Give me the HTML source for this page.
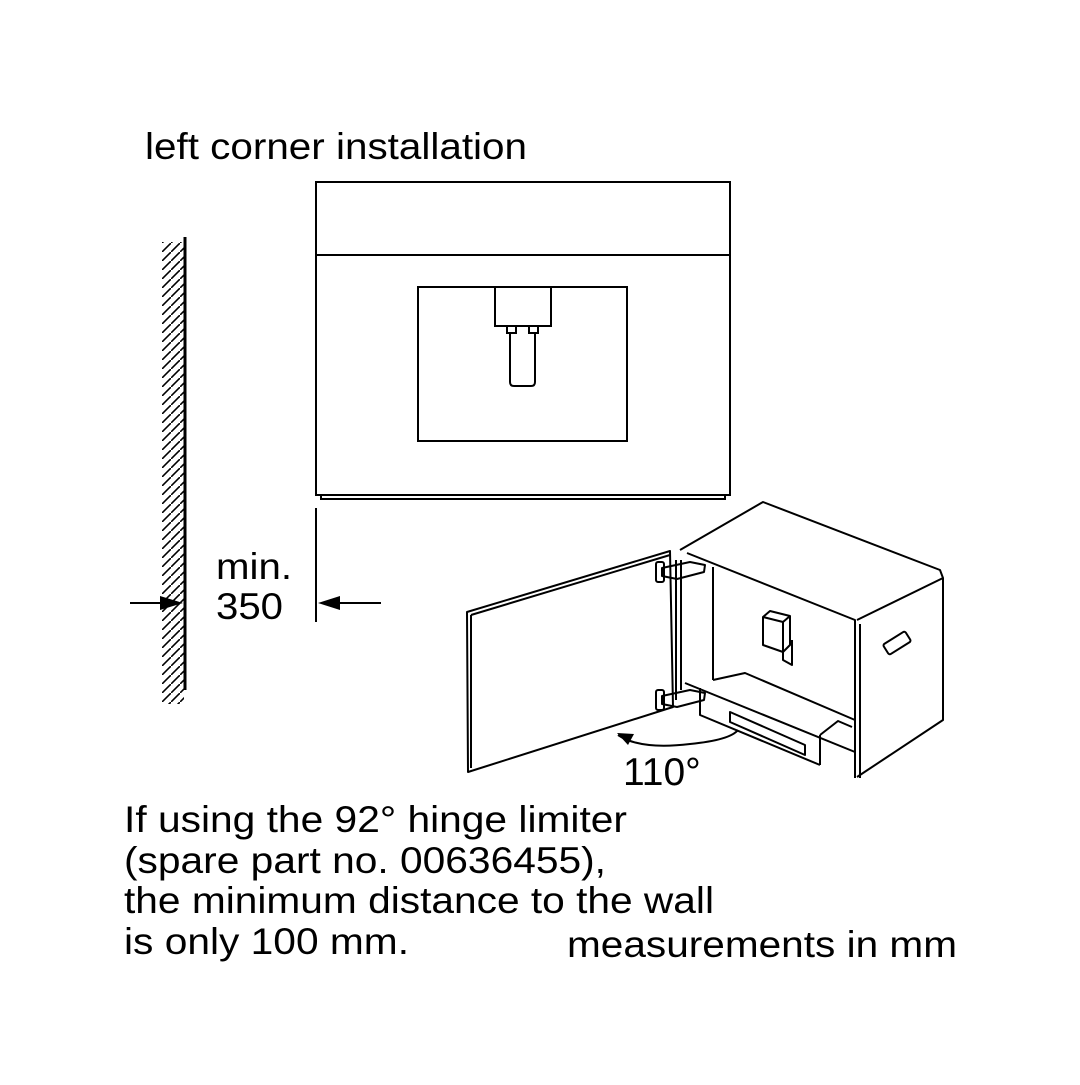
<!DOCTYPE html>
<html><head><style>
body{margin:0;background:#fff}
svg text{font-family:"Liberation Sans",sans-serif;fill:#000}
</style></head><body>
<svg width="1080" height="1080" viewBox="0 0 1080 1080" xmlns="http://www.w3.org/2000/svg">
<defs>
<pattern id="h" width="9" height="9" patternUnits="userSpaceOnUse">
<line x1="-1" y1="10" x2="10" y2="-1" stroke="#000" stroke-width="1.6"/>
</pattern>
</defs>
<text x="145" y="159" font-size="37" textLength="382" lengthAdjust="spacingAndGlyphs">left corner installation</text>
<g fill="none" stroke="#000" stroke-width="2">
<rect x="316" y="182" width="414" height="313"/>
<line x1="316" y1="255" x2="730" y2="255"/>
<rect x="418" y="287" width="209" height="154"/>
<rect x="495" y="287" width="56" height="39"/>
<rect x="507" y="326" width="9" height="7"/>
<rect x="529" y="326" width="9" height="7"/>
<path d="M510 333 V382 Q510 386 514 386 H531 Q535 386 535 382 V333"/>
<path d="M321 495 V499 H725 V495"/>
<line x1="185" y1="237" x2="185" y2="690" stroke-width="3"/>
<line x1="316" y1="508" x2="316" y2="622"/>
<line x1="130" y1="603" x2="160" y2="603"/>
<line x1="330" y1="603" x2="381" y2="603"/>
</g>
<rect x="162" y="242" width="22" height="462" fill="url(#h)"/>
<polygon points="183,603 160,596 160,610" fill="#000"/>
<polygon points="318,603 340,596 340,610" fill="#000"/>
<text x="216" y="579" font-size="37" textLength="76" lengthAdjust="spacingAndGlyphs">min.</text>
<text x="216" y="619" font-size="37" textLength="67" lengthAdjust="spacingAndGlyphs">350</text>
<g fill="none" stroke="#000" stroke-width="2" stroke-linejoin="round">
<polygon points="467,612 670,551 673,707 468,772"/>
<polyline points="471,615 471,768"/>
<polyline points="471,615 670,555"/>
<line x1="676" y1="560" x2="676" y2="700"/>
<line x1="681" y1="560" x2="681" y2="690"/>
<rect x="656" y="562" width="8" height="20" rx="2"/>
<rect x="656" y="690" width="8" height="20" rx="2"/>
<path d="M662 568 L690 562 L705 565 L704 572 L677 579 L662 576 Z"/>
<path d="M662 696 L690 690 L705 693 L704 700 L677 707 L662 704 Z"/>
<path d="M680 550 L763 502 L940 570 L943 578 L857 620"/>
<path d="M687 553 L855 620 V778"/>
<path d="M860 624 V778"/>
<path d="M943 578 V720 L857 777"/>
<line x1="713" y1="567" x2="713" y2="680"/>
<path d="M713 680 L745 673 L855 720"/>
<path d="M685 683 L855 752"/>
<path d="M700 688 L700 715 L820 765"/>
<path d="M730 712 L730 722 L805 755 L805 745 Z"/>
<path d="M820 735 L838 721 L852 727 M820 735 V765"/>
<rect x="884" y="637" width="26" height="12" rx="2" transform="rotate(-32 897 643)"/>
<path d="M763 617 L770 611 L790 616 L790 645 L783 652 L763 645 Z M783 622 L790 616 M783 622 V652 M763 617 L783 622"/>
<path d="M783 652 V660 L792 665 V640"/>
<path d="M618 735 Q640 750 690 744 Q730 740 738 730"/>
</g>
<polygon points="617,733 634,734 628,745" fill="#000"/>
<text x="623" y="785" font-size="39">110°</text>
<text x="124" y="832" font-size="37" textLength="503" lengthAdjust="spacingAndGlyphs">If using the 92° hinge limiter</text>
<text x="124" y="873" font-size="37" textLength="482" lengthAdjust="spacingAndGlyphs">(spare part no. 00636455),</text>
<text x="124" y="913" font-size="37" textLength="590" lengthAdjust="spacingAndGlyphs">the minimum distance to the wall</text>
<text x="124" y="954" font-size="37" textLength="285" lengthAdjust="spacingAndGlyphs">is only 100 mm.</text>
<text x="567" y="957" font-size="37" textLength="390" lengthAdjust="spacingAndGlyphs">measurements in mm</text>
</svg>
</body></html>
